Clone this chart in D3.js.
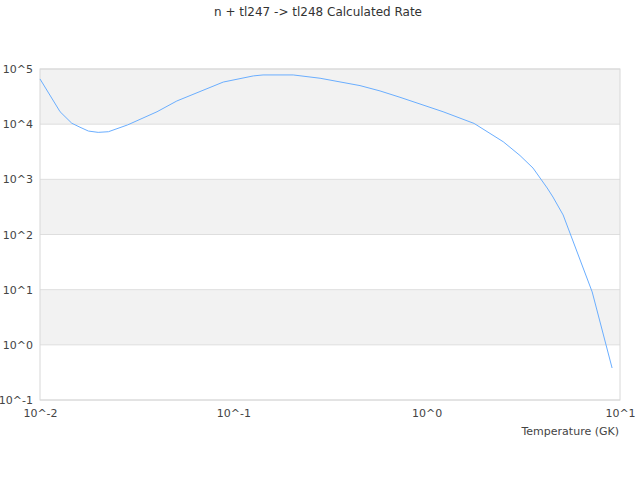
<!DOCTYPE html>
<html lang="en">
<head>
    <meta charset="UTF-8">
    <title>n + tl247 -> tl248 Calculated Rate</title>
    <script src="https://cdnjs.cloudflare.com/ajax/libs/d3/7.8.5/d3.min.js"></script>
    <style>
        body {
            margin: 0;
            background: #fff;
            font-family: "DejaVu Sans", sans-serif;
        }
        .axis text {
            fill: #444;
            font-size: 11px;
            font-family: "DejaVu Sans", sans-serif;
        }
    </style>
</head>
<body>
    <div id="chart"></div>

    <script>
        // Rate (temperature in GK, rate)
        const temperature = [0.01, 0.0127, 0.0146, 0.0161, 0.0178, 0.02, 0.0226, 0.0284, 0.0403, 0.051,
            0.0887, 0.127, 0.1425, 0.204, 0.281, 0.452, 0.574, 0.728, 1.216, 1.76,
            2.49, 3.04, 3.55, 4.2, 4.5, 5.08, 7.18, 9.1];
        const rate = [6.6e4, 1.68e4, 1.04e4, 8.8e3, 7.5e3, 7.1e3, 7.3e3, 9.7e3, 1.68e4, 2.63e4,
            5.8e4, 7.5e4, 7.8e4, 7.8e4, 6.8e4, 5.0e4, 4.0e4, 3.07e4, 1.68e4, 1.03e4,
            4.8e3, 2.7e3, 1.6e3, 697, 478, 226, 9.1, 0.38];

        const xTickExponents = [-2, -1, 0, 1];
        const yTickExponents = [-1, 0, 1, 2, 3, 4, 5];

        const config = {
            width: 640,
            height: 480,
            margin: { top: 69, right: 20, bottom: 80, left: 40 }
        };
        const innerW = config.width - config.margin.left - config.margin.right;
        const innerH = config.height - config.margin.top - config.margin.bottom;

        const svg = d3.select("#chart")
            .append("svg")
            .attr("width", config.width)
            .attr("height", config.height);

        const g = svg.append("g")
            .attr("transform", `translate(${config.margin.left},${config.margin.top})`);

        const x = d3.scaleLog().domain([1e-2, 1e1]).range([0, innerW]);
        const y = d3.scaleLog().domain([1e-1, 1e5]).range([innerH, 0]);

        // alternating bands, grey on the even decades
        const bands = yTickExponents.slice(0, -1);
        g.selectAll(".band")
            .data(bands)
            .join("rect")
            .attr("class", "band")
            .attr("x", 0)
            .attr("width", innerW)
            .attr("y", e => y(Math.pow(10, e + 1)))
            .attr("height", e => y(Math.pow(10, e)) - y(Math.pow(10, e + 1)))
            .attr("fill", e => (e % 2 === 0) ? "#f2f2f2" : "#ffffff");

        // horizontal grid
        g.selectAll(".grid")
            .data(yTickExponents)
            .join("line")
            .attr("class", "grid")
            .attr("x1", 0)
            .attr("x2", innerW)
            .attr("y1", e => y(Math.pow(10, e)))
            .attr("y2", e => y(Math.pow(10, e)))
            .attr("stroke", "#dedede")
            .attr("stroke-width", 1);

        // frame
        g.append("rect")
            .attr("width", innerW)
            .attr("height", innerH)
            .attr("fill", "none")
            .attr("stroke", "#d8d8d8")
            .attr("stroke-width", 1);

        const fmt = v => "10^" + Math.round(Math.log10(v));

        g.append("g")
            .attr("class", "axis")
            .call(d3.axisLeft(y)
                .tickValues(yTickExponents.map(e => Math.pow(10, e)))
                .tickFormat(fmt)
                .tickSize(0)
                .tickPadding(7))
            .call(a => a.select(".domain").remove());

        g.append("g")
            .attr("class", "axis")
            .attr("transform", `translate(0,${innerH})`)
            .call(d3.axisBottom(x)
                .tickValues(xTickExponents.map(e => Math.pow(10, e)))
                .tickFormat(fmt)
                .tickSize(0)
                .tickPadding(9))
            .call(a => a.select(".domain").remove());

        const points = temperature.map((t, i) => [t, rate[i]]);
        const line = d3.line()
            .x(d => x(d[0]))
            .y(d => y(d[1]));

        g.append("path")
            .datum(points)
            .attr("fill", "none")
            .attr("stroke", "#6aaeff")
            .attr("stroke-width", 1)
            .attr("d", line);

        // axis title
        svg.append("text")
            .attr("x", config.margin.left + innerW - 1)
            .attr("y", config.margin.top + innerH + 35)
            .attr("text-anchor", "end")
            .attr("fill", "#444")
            .attr("font-size", 11)
            .text("Temperature (GK)");

        // chart title
        svg.append("text")
            .attr("x", 318)
            .attr("y", 16)
            .attr("text-anchor", "middle")
            .attr("fill", "#333")
            .attr("font-size", 12)
            .text("n + tl247 -> tl248 Calculated Rate");
    </script>
</body>
</html>
